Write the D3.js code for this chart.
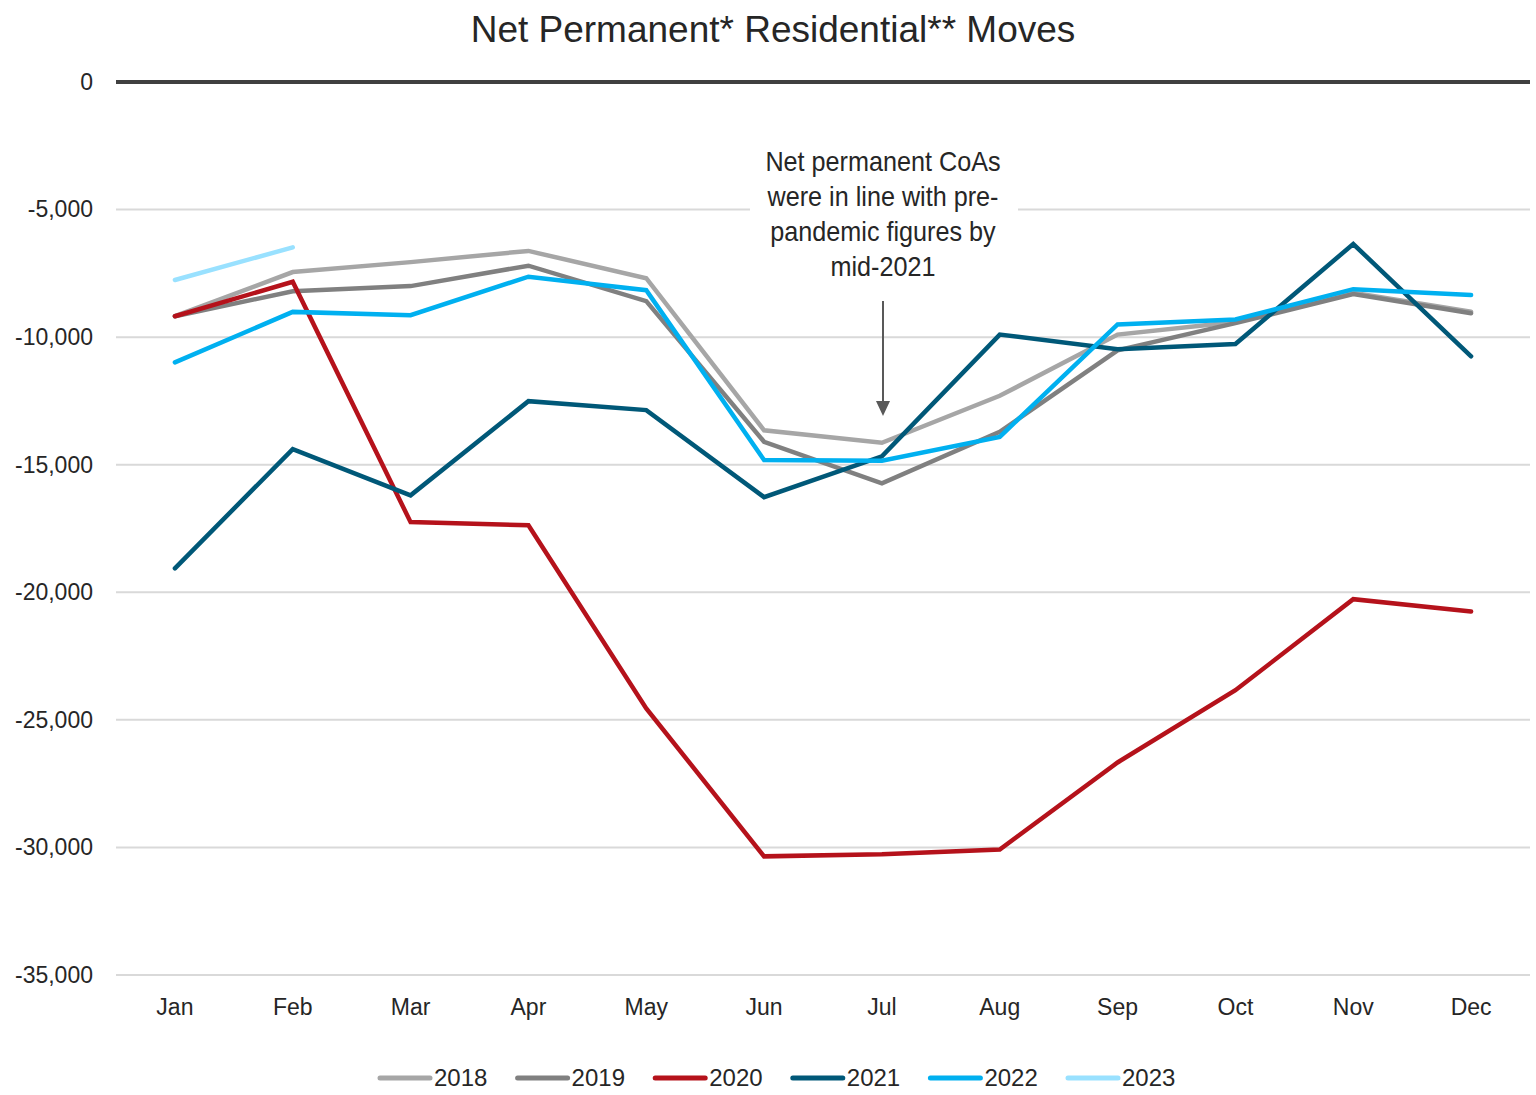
<!DOCTYPE html>
<html>
<head>
<meta charset="utf-8">
<script src="https://cdn.jsdelivr.net/npm/d3@7"></script>
<style>
  body { margin: 0; background: #fff; }
  svg { font-family: "Liberation Sans", Arial, sans-serif; }
</style>
</head>
<body>
<svg></svg>
<script>
// monthly net permanent residential moves, by year

var months = ['Jan', 'Feb', 'Mar', 'Apr', 'May', 'Jun', 'Jul', 'Aug', 'Sep', 'Oct', 'Nov', 'Dec'];
var years = ['2018', '2019', '2020', '2021', '2022', '2023'];

var v2018 = [-9180, -7450, -7060, -6620, -7690, -13650, -14140, -12300, -9900, -9410, -8260, -9000];
var v2019 = [-9180, -8200, -8000, -7200, -8590, -14100, -15730, -13710, -10520, -9450, -8310, -9060];
var v2020 = [-9180, -7830, -17250, -17370, -24550, -30350, -30270, -30080, -26670, -23840, -20270, -20750];
var v2021 = [-19060, -14390, -16200, -12510, -12860, -16270, -14670, -9900, -10470, -10270, -6350, -10750];
var v2022 = [-10990, -9010, -9140, -7630, -8160, -14820, -14840, -13910, -9500, -9310, -8120, -8350];
var v2023 = [-7760, -6480];

var yTicks = [0, -5000, -10000, -15000, -20000, -25000, -30000, -35000];

var colors = ['#a6a6a6', '#808080', '#b5121b', '#005878', '#00b0f0', '#99e1ff'];

var width = 1536;
var height = 1095;
var margin = { top: 82, right: 6, bottom: 120, left: 116 };

var svg = d3.select('svg')
  .attr('width', width)
  .attr('height', height);

var series = [v2018, v2019, v2020, v2021, v2022, v2023].map(function(vals, i) {
  return { year: years[i], color: colors[i], values: vals };
});

var x = d3.scaleBand()
  .domain(months)
  .range([margin.left, width - margin.right])
  .padding(0);

var y = d3.scaleLinear()
  .domain([-35000, 0])
  .range([975, margin.top]);

// title
svg.append('text')
  .attr('x', 773)
  .attr('y', 42)
  .attr('text-anchor', 'middle')
  .attr('font-size', 37)
  .attr('fill', '#262626')
  .text('Net Permanent* Residential** Moves');

// gridlines
svg.append('g')
  .selectAll('line')
  .data(yTicks.filter(d => d !== 0))
  .enter()
  .append('line')
    .attr('x1', margin.left)
    .attr('x2', width - margin.right)
    .attr('y1', d => y(d))
    .attr('y2', d => y(d))
    .attr('stroke', '#d9d9d9')
    .attr('stroke-width', 2);

// y axis labels
var yAxis = d3.axisLeft(y)
  .tickValues(yTicks)
  .tickSize(0)
  .tickPadding(0)
  .tickFormat(d => d3.format(',.0f')(d).replace('−', '-'));

svg.append('g')
  .attr('transform', 'translate(93,0)')
  .call(yAxis)
  .call(g => g.select('.domain').remove())
  .selectAll('text')
    .attr('font-size', 23)
    .attr('fill', '#262626')
    .attr('font-family', '"Liberation Sans", Arial, sans-serif');

// x axis labels
var xAxis = d3.axisBottom(x).tickSize(0).tickPadding(0);
svg.append('g')
  .attr('transform', 'translate(0,999)')
  .call(xAxis)
  .call(g => g.select('.domain').remove())
  .selectAll('text')
    .attr('font-size', 23)
    .attr('fill', '#262626')
    .attr('font-family', '"Liberation Sans", Arial, sans-serif');

// annotation
var note = ['Net permanent CoAs', 'were in line with pre-', 'pandemic figures by', 'mid-2021'];
svg.append('rect')
  .attr('x', 750)
  .attr('y', 198)
  .attr('width', 268)
  .attr('height', 24)
  .attr('fill', '#fff');

svg.append('g')
  .attr('transform', 'translate(883,0) scale(0.9,1)')
  .selectAll('text')
  .data(note)
  .enter()
  .append('text')
    .attr('x', 0)
    .attr('y', (d, i) => 171 + i * 35)
    .attr('text-anchor', 'middle')
    .attr('font-size', 28)
    .attr('fill', '#262626')
    .text(d => d);

svg.append('line')
  .attr('x1', 883).attr('x2', 883)
  .attr('y1', 301).attr('y2', 402)
  .attr('stroke', '#595959')
  .attr('stroke-width', 2);
svg.append('path')
  .attr('d', 'M876,401 L890,401 L883,416 Z')
  .attr('fill', '#595959');

// lines
var line = d3.line()
  .x((d, i) => x(months[i]) + x.bandwidth() / 2)
  .y(d => y(d));

svg.append('g')
  .selectAll('path')
  .data(series)
  .enter()
  .append('path')
    .attr('d', d => line(d.values))
    .attr('fill', 'none')
    .attr('stroke', d => d.color)
    .attr('stroke-width', 4.5)
    .attr('stroke-linejoin', 'miter')
    .attr('stroke-linecap', 'round');

// zero line
svg.append('line')
  .attr('x1', margin.left)
  .attr('x2', width - margin.right)
  .attr('y1', y(0))
  .attr('y2', y(0))
  .attr('stroke', '#404040')
  .attr('stroke-width', 4);

// legend
var legend = svg.append('g')
  .selectAll('g')
  .data(series)
  .enter()
  .append('g')
    .attr('transform', (d, i) => `translate(${380 + i * 137.6},1078)`);

legend.append('line')
  .attr('x1', 0).attr('x2', 50)
  .attr('y1', 0).attr('y2', 0)
  .attr('stroke', d => d.color)
  .attr('stroke-width', 5)
  .attr('stroke-linecap', 'round');

legend.append('text')
  .attr('x', 54)
  .attr('y', 8)
  .attr('font-size', 24)
  .attr('fill', '#262626')
  .text(d => d.year);
</script>
</body>
</html>
